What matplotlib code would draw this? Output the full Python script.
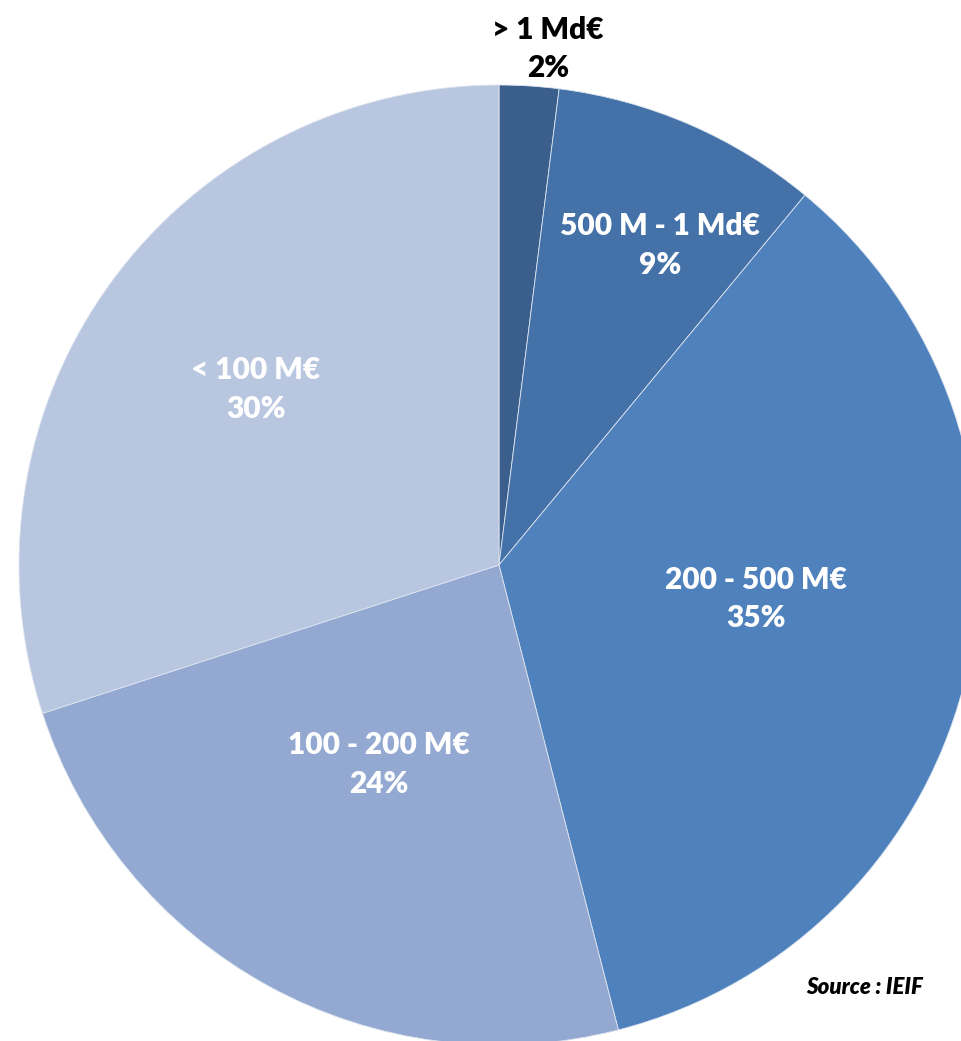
import numpy as np
import matplotlib.pyplot as plt

# size brackets and their shares (%)
labels = ["> 1 Md€", "500 M - 1 Md€", "200 - 500 M€", "100 - 200 M€", "< 100 M€"]
shares = [2, 9, 35, 24, 30]
colors = ["#3A5F8D", "#4371A8", "#4F81BD", "#93A9D1", "#B9C6E0"]

# where each label sits, as a fraction of the radius, plus a small angle nudge
label_r = [1.08, 0.745, 0.54, 0.485, 0.625]
label_nudge = [-1.8, -3.3, 5.0, -2.2, 0.2]
label_color = ["black", "white", "white", "white", "white"]

W, H = 961, 1041
fig = plt.figure(figsize=(W / 100, H / 100), dpi=100)
ax = fig.add_axes([0, 0, 1, 1])

cx, cy, R = 499, H - 565, 480
wedges, _ = ax.pie(shares, colors=colors, startangle=90, counterclock=False,
                   center=(cx, cy), radius=R, frame=True,
                   wedgeprops=dict(edgecolor="#DDE4EF", linewidth=0.6))
ax.set_xlim(0, W)
ax.set_ylim(0, H)
ax.set_aspect("equal")
ax.axis("off")

for w, lab, s, rf, nd, c in zip(wedges, labels, shares, label_r, label_nudge, label_color):
    ang = np.deg2rad((w.theta1 + w.theta2) / 2 + nd)
    x = cx + rf * R * np.cos(ang)
    y = cy + rf * R * np.sin(ang)
    ax.text(x, y, f"{lab}\n{s}%", ha="center", va="center", color=c,
            fontsize=21.5, fontweight="heavy", family="Lato", linespacing=1.45)

ax.text(0.9, 0.051, "Source : IEIF", transform=fig.transFigure, ha="center",
        va="center", fontsize=16, fontweight="heavy", style="italic", family="Lato")

fig.savefig("out.png", dpi=100)
